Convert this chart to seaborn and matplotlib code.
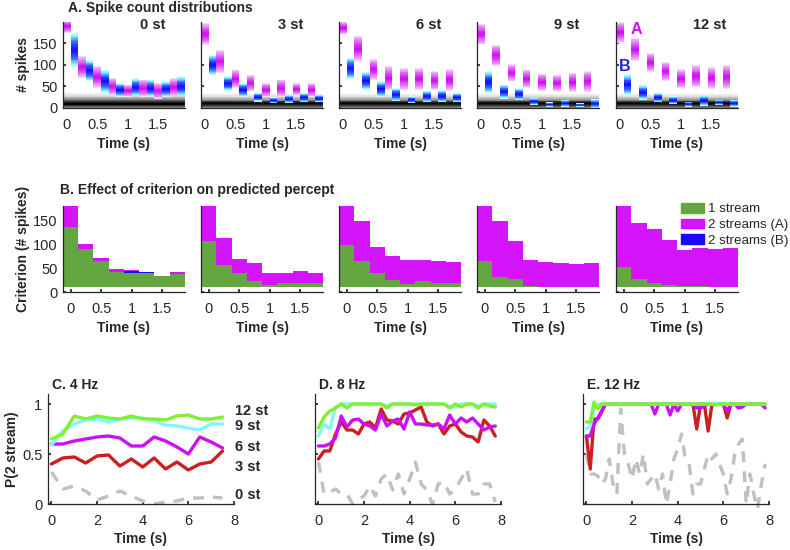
import numpy as np
import pandas as pd
import seaborn as sns
import matplotlib.pyplot as plt
from matplotlib.colors import LinearSegmentedColormap
from matplotlib.patches import Patch

# ---------------- data ----------------
sep_labels = ['0 st', '3 st', '6 st', '9 st', '12 st']

# A. spike count distributions: 16 tones (A,B,A,B...) per panel, centre and half-width
tone_t = [0, 0.125, 0.25, 0.375, 0.5, 0.625, 0.75, 0.875,
          1.0, 1.125, 1.25, 1.375, 1.5, 1.625, 1.75, 1.875]
tone_is_a = [True, False] * 8
dist_mean = [
    [190, 135, 95, 87, 72, 62, 50, 42, 40, 48, 46, 46, 40, 44, 48, 50],
    [172, 100, 108, 57, 68, 42, 58, 25, 42, 18, 46, 21, 44, 24, 42, 22],
    [186, 92, 138, 63, 90, 44, 70, 31, 68, 19, 68, 27, 64, 27, 65, 24],
    [172, 60, 122, 38, 82, 32, 68, 15, 60, 8, 58, 11, 60, 7, 62, 10],
    [176, 54, 136, 36, 106, 24, 85, 18, 68, 9, 74, 17, 70, 13, 73, 11],
]
dist_hw = [
    [15, 40, 25, 25, 25, 27, 20, 16, 14, 21, 20, 20, 18, 18, 21, 23],
    [26, 24, 26, 17, 21, 16, 19, 10, 16, 7, 20, 9, 14, 11, 16, 9],
    [15, 25, 30, 21, 24, 18, 27, 15, 25, 8, 25, 13, 22, 14, 25, 11],
    [24, 26, 25, 16, 20, 14, 21, 8, 20, 5, 19, 8, 22, 4, 24, 10],
    [24, 24, 27, 17, 22, 11, 22, 9, 22, 6, 26, 12, 25, 6, 28, 8],
]
noise_mean = 10
noise_hw = [25, 22, 22, 22, 22]

# B. criterion bands (8 bins of 0.25 s)
crit_t = [0, 0.25, 0.5, 0.75, 1.0, 1.25, 1.5, 1.75]
crit_floor = 10
crit_one = [
    [136, 90, 65, 42, 39, 39, 34, 37],
    [107, 56, 39, 23, 15, 18, 19, 19],
    [99, 65, 40, 26, 16, 23, 18, 18],
    [65, 32, 28, 13, 11, 11, 11, 11],
    [53, 28, 18, 14, 12, 13, 11, 11],
]
crit_b = [
    [136, 90, 65, 42, 44, 41, 34, 37],
    [107, 56, 39, 23, 15, 18, 19, 19],
    [99, 65, 40, 26, 16, 23, 18, 18],
    [65, 32, 28, 13, 11, 11, 11, 11],
    [53, 28, 18, 14, 12, 13, 11, 11],
]
crit_a = [
    [180, 100, 72, 49, 46, 41, 34, 41],
    [180, 113, 70, 60, 40, 40, 44, 40],
    [180, 148, 94, 75, 67, 67, 65, 62],
    [180, 148, 106, 67, 62, 60, 58, 60],
    [180, 144, 132, 109, 88, 93, 90, 93],
]

# C-E. P(2 stream) over time
t_4hz = np.arange(16) * 0.5
p4 = {
    '0 st': [0.32, 0.15, 0.18, 0.13, 0.04, 0.08, 0.13, 0.08, 0.03, 0.0, 0.02, 0.03, 0.06, 0.06, 0.07, 0.06],
    '3 st': [0.40, 0.46, 0.47, 0.41, 0.48, 0.49, 0.38, 0.45, 0.37, 0.46, 0.35, 0.42, 0.34, 0.40, 0.42, 0.53],
    '6 st': [0.60, 0.60, 0.63, 0.65, 0.67, 0.68, 0.66, 0.58, 0.58, 0.67, 0.63, 0.57, 0.50, 0.67, 0.62, 0.56],
    '9 st': [0.59, 0.73, 0.80, 0.84, 0.85, 0.82, 0.85, 0.86, 0.86, 0.83, 0.79, 0.78, 0.76, 0.74, 0.80, 0.80],
    '12 st': [0.65, 0.70, 0.88, 0.85, 0.88, 0.86, 0.85, 0.88, 0.85, 0.85, 0.84, 0.88, 0.89, 0.85, 0.85, 0.87],
}
t_8hz = np.arange(32) * 0.25
p8 = {
    '0 st': [0.42, 0.10, 0.12, 0.15, 0.10, 0.10, 0.0, 0.05, 0.08, 0.18, 0.08, 0.25, 0.30, 0.14, 0.30, 0.10,
             0.25, 0.42, 0.20, 0.14, 0.0, 0.20, 0.22, 0.10, 0.15, 0.25, 0.35, 0.10, 0.10, 0.20, 0.20, 0.02],
    '3 st': [0.45, 0.53, 0.53, 0.70, 0.82, 0.74, 0.74, 0.70, 0.80, 0.82, 0.76, 0.95, 0.84, 0.83, 0.80, 0.90,
             0.91, 0.94, 0.97, 0.82, 0.78, 0.80, 0.70, 0.78, 0.80, 0.72, 0.68, 0.67, 0.62, 0.84, 0.78, 0.68],
    '6 st': [0.58, 0.58, 0.60, 0.66, 0.88, 0.77, 0.84, 0.85, 0.80, 0.78, 0.74, 0.90, 0.78, 0.83, 0.85, 0.75,
             0.92, 0.80, 0.80, 0.79, 0.79, 0.80, 0.75, 0.89, 0.80, 0.86, 0.82, 0.86, 0.80, 0.74, 0.77, 0.78],
    '9 st': [0.68, 0.80, 0.75, 0.97, 1.0, 1.0, 1.0, 1.0, 1.0, 1.0, 1.0, 1.0, 0.98, 1.0, 1.0, 1.0,
             1.0, 1.0, 1.0, 1.0, 1.0, 1.0, 1.0, 0.97, 0.97, 1.0, 1.0, 1.0, 0.98, 1.0, 1.0, 1.0],
    '12 st': [0.76, 0.87, 0.93, 0.96, 1.0, 0.96, 1.0, 1.0, 1.0, 1.0, 1.0, 1.0, 0.96, 1.0, 1.0, 1.0,
              1.0, 0.99, 1.0, 1.0, 1.0, 1.0, 1.0, 0.96, 1.0, 0.97, 1.0, 1.0, 0.96, 1.0, 0.98, 0.97],
}
t_12hz = np.arange(48) / 6
p12 = {
    '0 st': [0.50, 0.30, 0.30, 0.28, 0.20, 0.25, 0.45, 0.20, 0.10, 0.95, 0.50, 0.40,
             0.25, 0.45, 0.30, 0.50, 0.20, 0.25, 0.30, 0.15, 0.30, 0.0, 0.20, 0.45,
             0.55, 0.70, 0.45, 0.40, 0.10, 0.20, 0.20, 0.35, 0.50, 0.45, 0.50, 0.40,
             0.30, 0.10, 0.25, 0.50, 0.60, 0.65, 0.0, 0.30, 0.10, -0.05, 0.20, 0.40],
    '3 st': [0.68, 0.35, 0.85, 0.85, 0.92, 1.0, 1.0, 1.0, 1.0, 1.0, 1.0, 1.0,
             1.0, 1.0, 1.0, 1.0, 1.0, 1.0, 1.0, 1.0, 1.0, 1.0, 1.0, 1.0,
             1.0, 1.0, 1.0, 1.0, 1.0, 0.75, 1.0, 1.0, 0.73, 1.0, 1.0, 1.0,
             1.0, 0.86, 1.0, 1.0, 1.0, 1.0, 1.0, 1.0, 1.0, 1.0, 1.0, 1.0],
    '6 st': [0.68, 0.68, 0.80, 0.86, 0.93, 1.0, 1.0, 1.0, 1.0, 1.0, 1.0, 1.0,
             1.0, 1.0, 1.0, 1.0, 1.0, 1.0, 0.90, 1.0, 1.0, 1.0, 0.89, 1.0,
             0.93, 1.0, 1.0, 1.0, 1.0, 0.96, 0.96, 0.98, 1.0, 1.0, 1.0, 1.0,
             1.0, 0.93, 1.0, 1.0, 0.96, 0.97, 1.0, 1.0, 1.0, 1.0, 1.0, 0.96],
    '9 st': [0.75, 0.78, 0.95, 1.0, 1.0, 1.0, 1.0, 1.0, 1.0, 1.0, 1.0, 1.0,
             1.0, 1.0, 1.0, 1.0, 1.0, 1.0, 1.0, 1.0, 1.0, 1.0, 1.0, 1.0,
             1.0, 1.0, 1.0, 1.0, 1.0, 1.0, 1.0, 1.0, 1.0, 1.0, 1.01, 1.0,
             1.0, 1.0, 1.0, 1.0, 1.0, 1.0, 1.0, 1.0, 1.0, 1.0, 1.0, 1.0],
    '12 st': [0.82, 0.82, 1.02, 0.95, 1.0, 1.0, 1.0, 1.0, 1.0, 1.0, 1.0, 1.0,
              1.0, 1.0, 1.0, 1.0, 1.0, 1.0, 1.0, 1.0, 1.0, 1.0, 1.0, 1.0,
              1.0, 1.0, 1.0, 1.0, 1.0, 1.0, 1.0, 1.0, 1.0, 1.0, 0.99, 1.0,
              1.0, 1.0, 1.0, 1.0, 1.0, 1.0, 1.0, 1.0, 1.0, 1.0, 1.0, 1.0],
}
line_colors = {'0 st': '#c0c0c0', '3 st': '#cc1f1f', '6 st': '#cc10f5',
               '9 st': '#80f8ff', '12 st': '#80f030'}
label_y_4hz = {'12 st': 0.93, '9 st': 0.78, '6 st': 0.57, '3 st': 0.37, '0 st': 0.09}

# ---------------- style ----------------
sns.set_theme(style='ticks')
plt.rcParams['font.family'] = ['Liberation Sans', 'DejaVu Sans']
plt.rcParams.update({
    'xtick.direction': 'in', 'ytick.direction': 'in',
    'xtick.major.size': 2.5, 'ytick.major.size': 2.5,
    'xtick.labelsize': 10.5, 'ytick.labelsize': 10.5,
    'axes.edgecolor': '#262626', 'axes.linewidth': 0.9,
    'xtick.color': '#262626', 'ytick.color': '#262626',
})

W, H = 790, 550
fig = plt.figure(figsize=(W / 100, H / 100), dpi=100)


def px_axes(left, top, width, height):
    return fig.add_axes([left / W, 1 - (top + height) / H, width / W, height / H])


def style_ax(ax):
    sns.despine(ax=ax)
    ax.tick_params(axis='x', pad=7)
    ax.tick_params(axis='y', pad=4)


cmap_a = LinearSegmentedColormap.from_list('a', ['#f6d8f8', '#e27ef3', '#d010f0'])
cmap_b = LinearSegmentedColormap.from_list('b', ['#ccffff', '#74f0ff', '#3a60f5', '#1212ff'])
cmap_n = LinearSegmentedColormap.from_list('n', ['#ededed', '#c4c4c4', '#8e8e8e', '#3a3a3a', '#000000'])


def draw_gradient(ax, x, mean, hw, cmap, width, n=12, gamma=0.7):
    for i in range(n):
        f = 1 - i / n
        ax.bar(x, 2 * f * hw, bottom=mean - f * hw, width=width,
               color=cmap((i / (n - 1)) ** gamma), linewidth=0)


lefts = [63, 201, 339, 477, 616]
bold = dict(fontweight='bold', fontsize=10)

# ---------------- row A ----------------
for p in range(5):
    ax = px_axes(lefts[p], 22, 122, 86)
    style_ax(ax)
    for i in range(12):
        f = 1 - i / 12
        ax.axhspan(noise_mean - f * noise_hw[p], noise_mean + f * noise_hw[p],
                   color=cmap_n((i / 11) ** 1.4), lw=0)
    for k in range(16):
        cm = cmap_a if tone_is_a[k] else cmap_b
        draw_gradient(ax, tone_t[k], dist_mean[p][k], dist_hw[p][k], cm, 0.125)
    ax.set_xlim(-0.0625, 1.9375)
    ax.set_ylim(0, 200)
    ax.set_xticks([0, 0.5, 1, 1.5], ['0', '0.5', '1', '1.5'])
    ax.set_yticks([0, 50, 100, 150])
    if p == 0:
        ax.set_ylabel('# spikes', labelpad=2, **bold)
    else:
        ax.set_yticklabels([])
    ax.set_xlabel('Time (s)', labelpad=4, **bold)
    ax.text(0.635, 0.965, sep_labels[p], transform=ax.transAxes,
            ha='left', va='center', fontweight='bold', fontsize=10.5)
    if p == 4:
        ax.text(0.17, 0.91, 'A', transform=ax.transAxes, color='#cc10ee',
                ha='center', va='center', fontweight='bold', fontsize=11.5)
        ax.text(0.07, 0.48, 'B', transform=ax.transAxes, color='#2020ee',
                ha='center', va='center', fontweight='bold', fontsize=11.5)

# ---------------- row B ----------------
green, magenta, blue = '#64a640', '#d414fa', '#1c08f2'
for p in range(5):
    ax = px_axes(lefts[p], 206, 122, 86)
    style_ax(ax)
    one = np.array(crit_one[p])
    bb = np.array(crit_b[p])
    aa = np.array(crit_a[p])
    ax.bar(crit_t, one - crit_floor, bottom=crit_floor, width=0.25, color=green, lw=0)
    ax.bar(crit_t, bb - one, bottom=one, width=0.25, color=blue, lw=0)
    ax.bar(crit_t, aa - bb, bottom=bb, width=0.25, color=magenta, lw=0)
    ax.set_xlim(-0.125, 1.875)
    ax.set_ylim(0, 180)
    ax.set_xticks([0, 0.5, 1, 1.5], ['0', '0.5', '1', '1.5'])
    ax.set_yticks([0, 50, 100, 150])
    if p == 0:
        ax.set_ylabel('Criterion (# spikes)', labelpad=2, **bold)
    else:
        ax.set_yticklabels([])
    ax.set_xlabel('Time (s)', labelpad=4, **bold)
    if p == 4:
        handles = [Patch(color=green), Patch(color=magenta), Patch(color=blue)]
        ax.legend(handles, ['1 stream', '2 streams (A)', '2 streams (B)'],
                  loc='upper left', bbox_to_anchor=(0.49, 1.1), frameon=False,
                  fontsize=9.6, handlelength=1.7, handleheight=0.75,
                  handletextpad=0.35, labelspacing=0.25, borderaxespad=0)

# ---------------- rows C-E ----------------
row_c = [(48, 'C. 4 Hz', t_4hz, p4), (315, 'D. 8 Hz', t_8hz, p8), (583, 'E. 12 Hz', t_12hz, p12)]
for j, (left, title, tt, pp) in enumerate(row_c):
    ax = px_axes(left, 394, 186, 110)
    style_ax(ax)
    for key in ['0 st', '3 st', '6 st', '9 st', '12 st']:
        if key == '0 st':
            sns.lineplot(x=tt, y=pp[key], ax=ax, color=line_colors[key], lw=2.4,
                         linestyle=(0, (3.3, 2.7)), clip_on=False)
        else:
            sns.lineplot(x=tt, y=pp[key], ax=ax, color=line_colors[key], lw=2.4)
    ax.set_xlim(-0.15, 8)
    ax.set_ylim(0, 1.1)
    ax.set_xticks([0, 2, 4, 6, 8])
    ax.set_yticks([0, 0.5, 1], ['0', '0.5', '1'])
    if j == 0:
        ax.set_ylabel('P(2 stream)', labelpad=2, **bold)
        for key, yv in label_y_4hz.items():
            ax.text(8.05, yv, key, ha='left', va='center',
                    fontweight='bold', fontsize=10.5)
    else:
        ax.set_yticklabels([])
    ax.set_xlabel('Time (s)', labelpad=3, **bold)
    ax.text(0.02, 1.08, title, transform=ax.transAxes, ha='left', va='center', **bold)

fig.text(68 / W, 1 - 8 / H, 'A. Spike count distributions', ha='left', va='center', **bold)
fig.text(60 / W, 1 - 190 / H, 'B. Effect of criterion on predicted percept', ha='left', va='center', **bold)

fig.savefig('out.png', dpi=100)
